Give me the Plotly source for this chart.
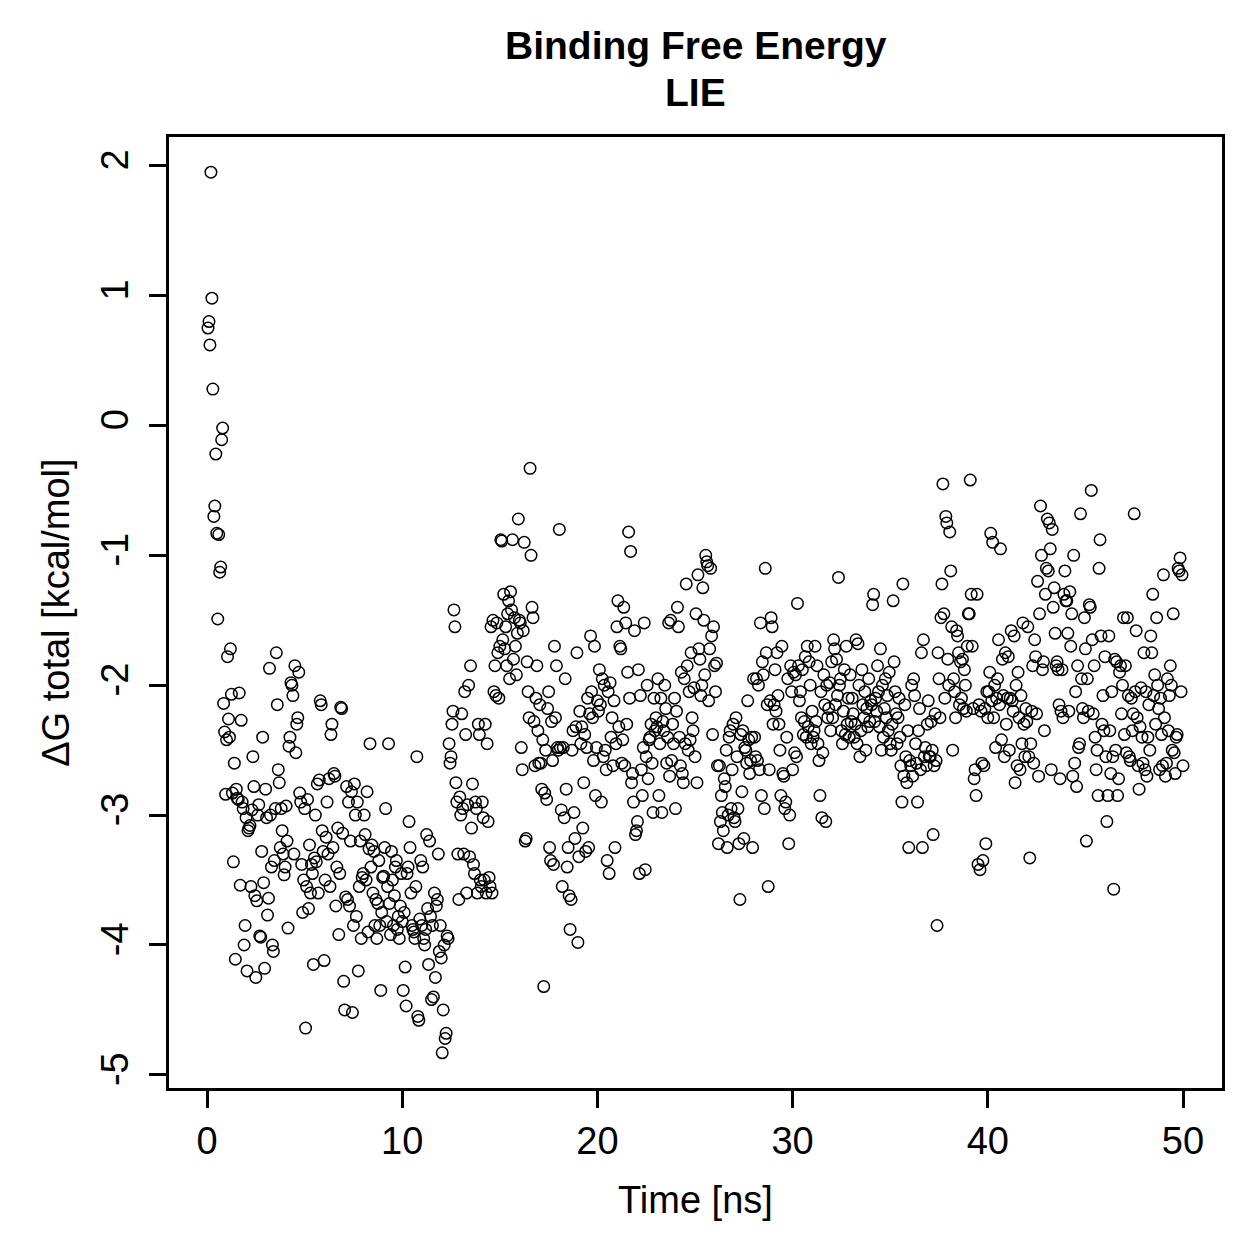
import plotly.graph_objects as go

# Sampling of the trajectory (ns between frames)
time_step_ns = 0.05

# Delta G total [kcal/mol], in 5-ns chunks
dG_00_05 = [
    0.75, 0.80, 0.62, 1.95, 0.98, 0.28, -0.70, -0.62, -0.22, -0.83, -1.49, -0.84, -1.13, -1.09, -0.11, -0.02, -2.14, -2.36, -2.84, -2.42,
    -1.78, -2.26, -2.40, -1.72, -2.07, -2.83, -3.36, -2.60, -4.11, -2.80, -2.87, -2.88, -2.06, -3.54, -2.27, -2.90, -2.95, -4.00, -3.85, -3.02,
    -4.20, -3.12, -3.10, -3.08, -3.55, -2.96, -2.55, -2.78, -3.62, -4.25, -3.66, -3.00, -2.92, -3.93, -3.94, -3.28, -2.40, -3.52, -4.18, -2.80,
    -3.02, -3.77, -3.64, -1.87, -3.00, -3.40, -4.00, -4.05, -3.35, -2.95, -1.75, -2.15, -2.65, -2.75, -3.25, -2.95, -3.12, -3.30, -3.46, -3.40,
    -2.93, -3.20, -3.87, -2.47, -2.40, -1.98, -2.00, -2.08, -3.30, -1.85, -2.52, -2.30, -2.25, -1.90, -2.83, -2.90, -3.38, -3.75, -3.50, -2.95,
]
dG_05_10 = [
    -4.64, -3.55, -2.88, -3.72, -3.23, -3.60, -3.38, -3.45, -4.15, -3.33, -3.00, -3.36, -2.76, -3.60, -2.73, -2.12, -2.15, -3.12, -3.28, -4.12,
    -3.50, -3.17, -2.90, -3.30, -2.72, -3.55, -2.38, -2.30, -3.25, -2.68, -2.70, -3.70, -3.40, -3.10, -3.92, -3.45, -2.17, -2.18, -3.14, -4.28,
    -4.50, -3.63, -2.78, -3.65, -2.90, -3.70, -3.20, -2.82, -4.52, -3.85, -2.76, -3.00, -3.78, -2.90, -4.20, -3.55, -3.20, -3.95, -3.48, -3.45,
    -3.00, -3.15, -3.50, -2.82, -3.90, -3.26, -2.45, -3.40, -3.23, -3.60, -3.28, -3.85, -3.65, -3.95, -3.68, -3.35, -3.85, -4.35, -3.75, -3.48,
    -3.47, -3.25, -2.95, -3.82, -3.55, -2.45, -3.68, -3.92, -3.28, -3.50, -3.85, -3.62, -3.40, -3.35, -3.88, -3.78, -3.95, -3.70, -3.45, -3.82,
]
dG_10_15 = [
    -4.35, -3.75, -4.17, -4.47, -3.45, -3.40, -3.05, -3.25, -3.60, -3.85, -3.88, -3.90, -3.95, -3.55, -2.55, -4.55, -4.58, -3.80, -3.35, -3.85,
    -3.40, -3.95, -4.00, -3.88, -3.15, -3.72, -4.15, -3.20, -3.78, -4.42, -3.85, -4.40, -3.60, -4.25, -3.70, -3.65, -3.30, -4.05, -3.85, -4.10,
    -4.83, -4.50, -4.00, -4.72, -4.68, -3.93, -3.95, -2.45, -2.60, -2.55, -2.30, -2.20, -1.42, -1.55, -2.75, -2.90, -3.30, -3.65, -2.86, -3.00,
    -2.22, -2.95, -3.30, -2.05, -2.38, -3.60, -2.92, -2.00, -3.32, -1.85, -3.10, -2.76, -3.38, -3.45, -2.90, -2.95, -3.60, -2.30, -2.38, -3.50,
    -3.55, -2.90, -3.02, -3.50, -2.30, -3.60, -2.45, -3.05, -3.48, -3.55, -1.55, -3.60, -1.50, -2.05, -1.85, -2.08, -1.52, -1.75, -2.10, -1.70,
]
dG_15_20 = [
    -0.88, -0.89, -1.65, -1.30, -1.72, -1.55, -1.85, -1.45, -1.35, -1.95, -1.28, -1.42, -0.88, -1.80, -1.48, -1.70, -1.92, -1.60, -0.72, -1.50,
    -1.52, -2.48, -2.65, -1.58, -0.90, -3.20, -3.18, -1.82, -2.05, -2.25, -0.33, -1.00, -1.40, -1.48, -2.28, -2.62, -2.10, -1.85, -2.35, -2.60,
    -2.15, -2.60, -2.80, -2.42, -4.32, -2.83, -2.50, -2.88, -2.18, -2.05, -3.25, -3.35, -2.28, -2.58, -3.38, -1.70, -2.25, -1.85, -2.48, -2.50,
    -0.80, -2.48, -2.96, -3.55, -2.48, -3.02, -1.95, -2.80, -3.40, -3.25, -3.62, -3.88, -3.65, -2.50, -2.35, -2.98, -3.18, -2.32, -1.75, -3.98,
    -3.32, -2.20, -2.45, -2.32, -3.10, -2.75, -2.38, -3.28, -2.48, -2.10, -3.25, -2.22, -1.62, -2.05, -2.25, -2.58, -1.70, -2.85, -2.48, -2.12,
]
dG_20_25 = [
    -2.20, -1.88, -2.15, -2.90, -1.95, -2.55, -2.00, -2.50, -2.65, -3.35, -2.05, -3.45, -1.98, -2.40, -2.25, -2.62, -2.12, -3.25, -2.45, -1.55,
    -1.35, -2.32, -1.70, -1.72, -2.60, -2.42, -1.40, -2.62, -1.52, -2.30, -1.90, -0.82, -2.10, -0.97, -2.75, -2.68, -2.90, -1.58, -3.15, -3.12,
    -3.05, -1.88, -3.45, -2.08, -2.65, -2.85, -2.48, -1.52, -3.42, -2.55, -2.00, -2.72, -2.42, -2.40, -2.30, -2.60, -2.98, -2.10, -2.35, -2.25,
    -2.32, -1.95, -2.85, -2.45, -2.10, -2.98, -2.28, -2.35, -2.00, -2.18, -2.60, -2.40, -1.52, -2.70, -1.50, -2.58, -2.30, -2.45, -2.10, -2.95,
    -2.20, -1.40, -1.55, -2.40, -2.62, -1.90, -2.68, -2.75, -1.95, -2.45, -1.22, -1.85, -2.50, -2.05, -2.42, -1.75, -2.25, -2.35, -2.02, -2.55,
]
dG_25_30 = [
    -1.45, -2.75, -1.15, -1.72, -1.80, -2.08, -2.00, -1.25, -1.50, -1.92, -1.00, -1.05, -1.08, -2.12, -1.72, -1.10, -1.62, -2.38, -1.55, -1.85,
    -2.05, -1.83, -2.62, -3.22, -2.62, -3.05, -2.85, -2.98, -3.12, -2.72, -2.78, -2.50, -3.25, -3.00, -2.40, -2.35, -2.95, -2.65, -2.30, -3.02,
    -3.05, -2.25, -2.55, -2.95, -3.22, -3.65, -2.38, -2.82, -2.35, -3.18, -2.48, -2.50, -2.60, -2.12, -2.42, -2.68, -2.58, -2.40, -3.25, -1.95,
    -2.40, -2.55, -1.95, -2.58, -2.00, -2.65, -1.52, -2.85, -1.82, -1.92, -2.95, -1.10, -1.75, -2.15, -3.55, -2.65, -2.12, -1.48, -1.55, -2.30,
    -2.15, -1.88, -2.20, -1.75, -2.08, -2.30, -2.50, -2.85, -1.70, -2.68, -2.70, -2.95, -2.90, -2.40, -1.95, -3.22, -3.00, -1.85, -2.05, -2.65,
]
dG_30_35 = [
    -1.90, -2.52, -1.92, -2.55, -1.37, -1.85, -2.12, -2.05, -2.25, -1.88, -2.38, -2.28, -1.78, -2.40, -1.70, -2.32, -1.82, -2.00, -2.45, -2.20,
    -2.40, -2.35, -1.70, -2.28, -1.85, -2.45, -2.58, -2.85, -2.05, -3.02, -2.52, -1.92, -2.15, -3.05, -2.00, -2.25, -2.18, -1.98, -2.35, -1.82,
    -2.25, -1.65, -1.72, -2.15, -1.80, -2.08, -1.17, -2.00, -1.95, -2.35, -2.45, -2.20, -1.88, -2.38, -1.70, -2.30, -2.10, -2.40, -1.92, -2.28,
    -2.10, -2.22, -2.40, -2.30, -1.65, -2.45, -1.68, -2.00, -2.55, -2.35, -1.88, -2.15, -2.25, -2.05, -2.50, -2.18, -2.32, -1.95, -2.28, -2.12,
    -2.15, -1.38, -1.30, -2.28, -2.10, -2.20, -1.85, -2.05, -2.32, -1.72, -2.50, -2.00, -2.40, -2.18, -1.95, -2.25, -2.08, -2.35, -1.90, -2.45,
]
dG_35_40 = [
    -2.50, -2.30, -1.35, -1.82, -2.05, -2.22, -2.45, -2.25, -2.10, -2.40, -2.62, -2.90, -1.22, -2.70, -2.15, -2.55, -2.75, -2.35, -3.25, -2.58,
    -2.62, -2.00, -2.70, -1.95, -2.08, -2.45, -2.60, -2.90, -2.35, -2.18, -2.65, -1.75, -3.25, -1.65, -2.55, -2.48, -2.62, -2.30, -2.12, -2.55,
    -2.55, -2.28, -2.50, -3.15, -2.62, -2.22, -2.58, -3.85, -1.75, -1.95, -2.25, -1.48, -1.22, -0.45, -1.45, -2.10, -0.70, -0.75, -1.80, -2.00,
    -0.82, -1.12, -1.55, -2.50, -1.95, -2.05, -2.25, -1.58, -1.62, -1.75, -2.15, -1.82, -2.10, -1.80, -2.18, -1.88, -2.00, -2.20, -1.70, -1.45,
    -1.45, -0.42, -1.30, -1.70, -2.18, -2.72, -2.65, -2.85, -1.30, -3.38, -2.15, -3.42, -2.20, -2.60, -3.35, -2.62, -2.18, -3.22, -2.05, -2.25,
]
dG_40_45 = [
    -2.05, -1.90, -0.83, -2.12, -0.90, -2.25, -2.00, -2.48, -2.10, -1.95, -1.65, -2.15, -0.95, -2.42, -1.80, -2.08, -2.55, -1.75, -2.30, -2.10,
    -1.78, -2.50, -2.10, -1.58, -2.12, -2.20, -1.62, -2.75, -2.00, -2.62, -1.90, -2.25, -2.65, -2.08, -2.45, -1.52, -2.30, -2.55, -2.18, -2.28,
    -1.55, -2.55, -3.33, -2.45, -2.20, -1.85, -2.60, -1.65, -1.78, -2.22, -1.20, -2.70, -1.45, -0.62, -1.00, -1.88, -1.82, -2.35, -1.30, -1.10,
    -0.72, -1.12, -0.75, -0.95, -2.65, -0.80, -1.40, -1.25, -1.60, -1.85, -1.82, -1.88, -2.15, -2.72, -2.20, -1.88, -2.25, -1.30, -1.12, -1.35,
    -1.35, -1.60, -2.20, -1.28, -1.70, -1.45, -2.70, -1.00, -2.60, -2.05, -2.78, -1.85, -2.48, -2.45, -0.68, -1.95, -2.18, -2.25, -1.48, -1.72,
]
dG_45_50 = [
    -3.20, -1.95, -2.20, -1.38, -1.40, -0.50, -1.65, -2.22, -1.85, -2.40, -2.65, -2.50, -2.85, -1.10, -0.88, -1.62, -2.30, -2.08, -2.35, -1.78,
    -2.55, -3.05, -2.85, -1.62, -2.35, -2.68, -2.05, -2.55, -3.57, -1.80, -2.50, -1.82, -2.85, -2.72, -1.90, -1.85, -2.22, -2.00, -1.48, -2.38,
    -1.85, -2.52, -1.48, -2.08, -2.55, -2.58, -2.10, -2.35, -2.22, -0.68, -2.05, -1.58, -2.25, -2.62, -2.80, -2.32, -2.02, -2.40, -2.60, -1.75,
    -2.65, -2.05, -2.70, -2.40, -2.15, -2.50, -1.62, -1.75, -1.30, -2.08, -1.92, -2.30, -1.48, -2.00, -2.18, -2.65, -2.10, -2.38, -2.62, -1.15,
    -2.25, -2.70, -2.60, -1.95, -2.35, -2.08, -1.85, -2.00, -2.50, -1.45, -2.52, -2.68, -2.40, -2.38, -1.10, -1.12, -1.02, -2.05, -1.15, -2.62,
]

x_ticks = [0, 10, 20, 30, 40, 50]
y_ticks = [-5, -4, -3, -2, -1, 0, 1, 2]

title_line1 = "Binding Free Energy"
title_line2 = "LIE"
x_label = "Time [ns]"
y_label = "ΔG total [kcal/mol]"

dG = dG_00_05 + dG_05_10 + dG_10_15 + dG_15_20 + dG_20_25 + dG_25_30 + dG_30_35 + dG_35_40 + dG_40_45 + dG_45_50
time_ns = [round((i + 1) * time_step_ns, 4) for i in range(len(dG))]

# R-style 4% range extension
def r_range(v):
    lo, hi = min(v), max(v)
    pad = (hi - lo) * 0.04
    return [lo - pad, hi + pad]

FONT = "Liberation Sans, Arial, Helvetica, sans-serif"

fig = go.Figure()
fig.add_trace(go.Scatter(
    x=time_ns, y=dG, mode="markers",
    marker=dict(symbol="circle-open", size=11.5, color="black", line=dict(width=1.5, color="black")),
    showlegend=False, hoverinfo="x+y",
))

axis_common = dict(
    showgrid=False, zeroline=False, showline=True, mirror=True,
    linecolor="black", linewidth=3,
    ticks="outside", ticklen=17, tickwidth=3, tickcolor="black",
    tickfont=dict(family=FONT, size=38, color="black"),
)
fig.update_xaxes(range=r_range(time_ns), tickvals=x_ticks, ticktext=[str(t) for t in x_ticks],
                 ticklabelstandoff=0, **axis_common)
fig.update_yaxes(range=r_range(dG), tickvals=y_ticks, ticktext=[str(t) for t in y_ticks],
                 tickangle=-90, ticklabelstandoff=6, **axis_common)

annots = [
    dict(text=f"<b>{title_line1}</b>", x=0.5, y=1.0957, size=39),
    dict(text=f"<b>{title_line2}</b>", x=0.5, y=1.0463, size=39),
    dict(text=x_label, x=0.5, y=-0.1178, size=38),
    dict(text=y_label, x=-0.108, y=0.5, size=38, angle=-90),
]
for a in annots:
    fig.add_annotation(xref="paper", yref="paper", showarrow=False,
                       xanchor="center", yanchor="middle",
                       text=a["text"], x=a["x"], y=a["y"], textangle=a.get("angle", 0),
                       font=dict(family=FONT, size=a["size"], color="black"))

fig.update_layout(
    width=1259, height=1259,
    margin=dict(l=169, r=37, t=137, b=171, pad=0),
    paper_bgcolor="white", plot_bgcolor="white",
    font=dict(family=FONT, color="black"),
)

fig.write_html("out.html")
